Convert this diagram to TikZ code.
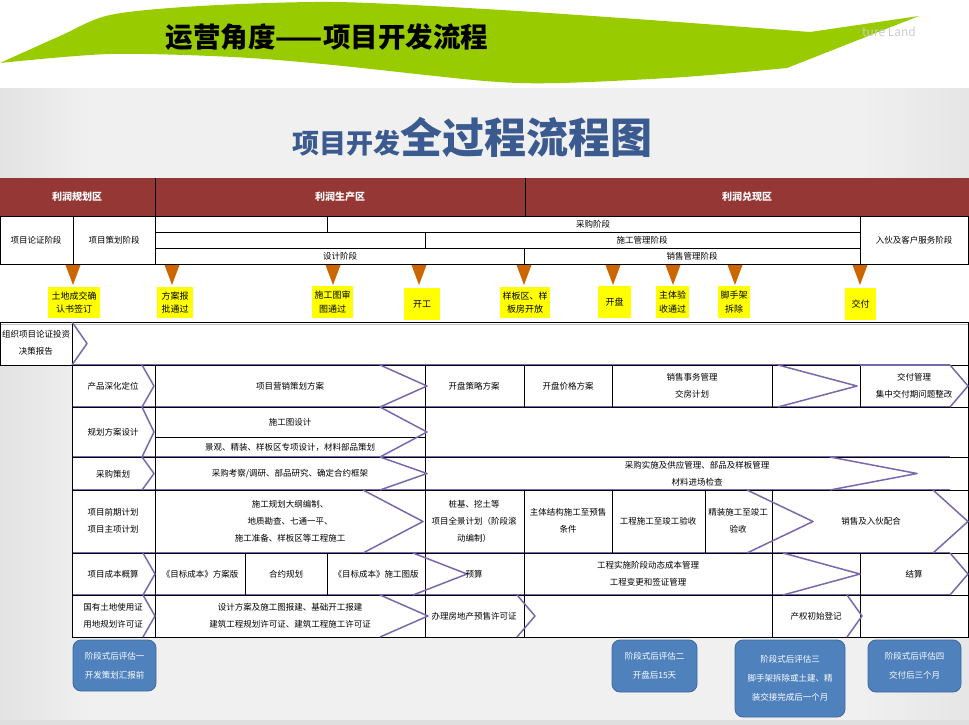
\documentclass[tikz,border=0pt]{standalone}
\usepackage{fontspec}
\setmainfont{Noto Sans CJK SC}
\definecolor{hdrred}{HTML}{953735}
\definecolor{leaf}{HTML}{99CC00}
\definecolor{tricol}{HTML}{CC6600}
\definecolor{chevcol}{HTML}{7A68AC}
\definecolor{evalblue}{HTML}{4F81BD}
\definecolor{evaledge}{HTML}{3C6A9E}
\definecolor{titleblue}{HTML}{3B5A8F}
\definecolor{bggray}{HTML}{F0F0F0}
\definecolor{msyellow}{HTML}{FFFF00}
\newcommand\chevtip[4]{\draw[chev] (#1,#3) -- (#2,{(#3+#4)/2}) -- (#1,#4);}
\begin{document}
\begin{tikzpicture}[x=1pt,y=-1pt,
  gridl/.style={draw=black,line width=0.9pt},
  chev/.style={draw=chevcol,line width=1.5pt,line join=round},
  cell/.style={font=\fontsize{8.5}{17}\selectfont,align=center,inner sep=0pt},
  hdr/.style={font=\fontsize{10}{12}\selectfont\bfseries,text=white,inner sep=0pt},
  stagetxt/.style={font=\fontsize{8.5}{12}\selectfont,inner sep=0pt},
  msbox/.style={fill=msyellow,font=\fontsize{9}{13.5}\selectfont,align=center,inner sep=0pt},
  evalbox/.style={rounded corners=8pt,fill=evalblue,draw=evaledge,line width=0.8pt,text=white,font=\fontsize{8.5}{19}\selectfont,align=center,inner sep=0pt}]
\useasboundingbox (0,0) rectangle (969,725);
% background
\fill[white] (0,0) rectangle (969,88);
\fill[bggray] (0,88) rectangle (969,725);
\shade[left color=gray!22,right color=bggray] (0,88) rectangle (90,725);
\shade[left color=bggray,right color=gray!20] (860,88) rectangle (969,725);
\fill[gray!25] (0,720) rectangle (969,725);
% green swoosh
\fill[leaf] plot[smooth] coordinates {(0,63) (60,36) (110,15) (200,6) (333,2) (485,9) (650,20) (810,32)} -- (919,16) -- (787,68)
  -- plot[smooth] coordinates {(787,68) (684,77) (560,83) (485,81) (333,65) (233,57) (110,54) (0,63)} -- cycle;
\node[font=\fontsize{27.5}{29}\selectfont\bfseries] (toptitle) at (327,37) {运营角度——项目开发流程};
\node[font=\fontsize{12}{14}\selectfont,text=gray!40,anchor=west,inner sep=0pt] (brand) at (862,32) {ture Land};
% main title
\node[anchor=base,text=titleblue,inner sep=0pt] (title) at (472,153)
  {\fontsize{27}{30}\selectfont\bfseries 项目开发\fontsize{42}{44}\selectfont 全过程流程图};
% table background
\fill[white] (0,178) rectangle (969,365);
\fill[white] (72,365) rectangle (969,637);
% header row
\fill[hdrred] (0,178) rectangle (969,216);
\draw[gridl] (155,178) -- (155,216) (525,178) -- (525,216);
\node[hdr] (z1) at (77,197) {利润规划区};
\node[hdr] (z2) at (340,197) {利润生产区};
\node[hdr] (z3) at (747,197) {利润兑现区};
% stage rows
\draw[gridl] (0,216) -- (969,216) (155,232) -- (860,232) (155,248) -- (860,248) (0,264) -- (969,264);
\draw[gridl] (0,216) -- (0,264) (73,216) -- (73,264) (155,216) -- (155,264) (327,216) -- (327,232)
  (425,232) -- (425,248) (524,248) -- (524,264) (860,216) -- (860,264) (968,216) -- (968,264);
\node[stagetxt] (s1) at (36,240) {项目论证阶段};
\node[stagetxt] (s2) at (114,240) {项目策划阶段};
\node[stagetxt] (s3) at (593,224) {采购阶段};
\node[stagetxt] (s4) at (642,240) {施工管理阶段};
\node[stagetxt] (s5) at (340,256) {设计阶段};
\node[stagetxt] (s6) at (692,256) {销售管理阶段};
\node[stagetxt] (s7) at (914,240) {入伙及客户服务阶段};
% milestones
\foreach \x in {73,172,333,419,524,613,673,735,860}
  \fill[tricol] (\x-7.5,265) -- (\x+7.5,265) -- (\x,285) -- cycle;
\node[msbox,minimum width=52pt,minimum height=31pt] (m1) at (74,302.5) {土地成交确\\认书签订};
\node[msbox,minimum width=36pt,minimum height=31pt] (m2) at (175,302.5) {方案报\\批通过};
\node[msbox,minimum width=41pt,minimum height=32pt] (m3) at (332.5,302) {施工图审\\图通过};
\node[msbox,minimum width=36pt,minimum height=32pt] (m4) at (422,304) {开工};
\node[msbox,minimum width=50pt,minimum height=31pt] (m5) at (525,302.5) {样板区、样\\板房开放};
\node[msbox,minimum width=33pt,minimum height=32pt] (m6) at (614.5,302) {开盘};
\node[msbox,minimum width=33pt,minimum height=32pt] (m7) at (672.5,302) {主体验\\收通过};
\node[msbox,minimum width=32pt,minimum height=32pt] (m8) at (734,302) {脚手架\\拆除};
\node[msbox,minimum width=31pt,minimum height=32pt] (m9) at (860.5,304) {交付};
\draw[gridl] (0,322) -- (969,322);
\draw[gray!50,line width=0.8pt] (0,324.5) -- (969,324.5);
% purple row lines (under black)
\foreach \y in {365,407,457,490,553,595}
  \draw[chevcol,line width=1.6pt] (72,\y) -- (950,\y);
% body grid
\draw[gridl] (0,365) -- (72,365) (0,322) -- (0,365) (72,322) -- (72,637) (968,322) -- (968,637);
\foreach \y in {365,407,457,490,553,595,637}
  \draw[gridl] (72,\y) -- (969,\y);
\draw[gridl] (155,437) -- (425,437);
\draw[gridl] (155,365) -- (155,637) (425,365) -- (425,637)
  (524,365) -- (524,407) (524,490) -- (524,637)
  (612,365) -- (612,407) (612,490) -- (612,553)
  (705,490) -- (705,553)
  (772,365) -- (772,407) (772,490) -- (772,637)
  (860,365) -- (860,407) (860,553) -- (860,637)
  (245,553) -- (245,595) (327,553) -- (327,595);
% chevron tips
\chevtip{72}{87}{322}{365}
\chevtip{142}{154}{365}{407}\chevtip{380}{427}{365}{407}\chevtip{778}{857}{365}{407}\chevtip{950}{968}{365}{407}
\draw[chev] (860,365) -- (950,365);
\chevtip{142}{154}{407}{457}\chevtip{380}{427}{407}{457}
\chevtip{142}{154}{457}{490}\chevtip{380}{427}{457}{490}\chevtip{830}{917}{457}{490}
\chevtip{363}{423}{490}{553}\chevtip{747}{813}{490}{553}\chevtip{933}{968}{490}{553}
\chevtip{143}{155}{553}{595}\chevtip{413}{467}{553}{595}\chevtip{783}{860}{553}{595}\chevtip{950}{968}{553}{595}
\chevtip{143}{155}{595}{637}\chevtip{380}{428}{595}{637}\chevtip{517}{535}{595}{637}\chevtip{847}{862}{595}{637}
% row A
\node[cell] (a1) at (36,343) {组织项目论证投资\\决策报告};
% row B
\node[cell] (b1) at (113,386) {产品深化定位};
\node[cell] (b2) at (290,386) {项目营销策划方案};
\node[cell] (b3) at (474,386) {开盘策略方案};
\node[cell] (b4) at (568,386) {开盘价格方案};
\node[cell] (b5) at (692,386) {销售事务管理\\交房计划};
\node[cell] (b6) at (914,386) {交付管理\\集中交付期问题整改};
% row C
\node[cell] (c1) at (113,432) {规划方案设计};
\node[cell] (c2) at (290,422) {施工图设计};
\node[cell] (c3) at (290,447) {景观、精装、样板区专项设计，材料部品策划};
% row D
\node[cell] (d1) at (113,474) {采购策划};
\node[cell] (d2) at (290,474) {采购考察/调研、部品研究、确定合约框架};
\node[cell] (d3) at (697,474) {采购实施及供应管理、部品及样板管理\\材料进场检查};
% row E
\node[cell] (e1) at (113,521) {项目前期计划\\项目主项计划};
\node[cell] (e2) at (290,521) {施工规划大纲编制、\\地质勘查、七通一平、\\施工准备、样板区等工程施工};
\node[cell] (e3) at (474,521) {桩基、挖土等\\项目全景计划（阶段滚\\动编制）};
\node[cell] (e4) at (568,521) {主体结构施工至预售\\条件};
\node[cell] (e5) at (658,521) {工程施工至竣工验收};
\node[cell] (e6) at (738,521) {精装施工至竣工\\验收};
\node[cell] (e7) at (871,521) {销售及入伙配合};
% row F
\node[cell] (f1) at (113,574) {项目成本概算};
\node[cell] (f2) at (200,574) {《目标成本》方案版};
\node[cell] (f3) at (286,574) {合约规划};
\node[cell] (f4) at (376,574) {《目标成本》施工图版};
\node[cell] (f5) at (474,574) {预算};
\node[cell] (f6) at (648,574) {工程实施阶段动态成本管理\\工程变更和签证管理};
\node[cell] (f7) at (914,574) {结算};
% row G
\node[cell] (g1) at (113,616) {国有土地使用证\\用地规划许可证};
\node[cell] (g2) at (290,616) {设计方案及施工图报建、基础开工报建\\建筑工程规划许可证、建筑工程施工许可证};
\node[cell] (g3) at (474,616) {办理房地产预售许可证};
\node[cell] (g4) at (816,616) {产权初始登记};
% evaluation boxes
\node[evalbox,minimum width=83pt,minimum height=51pt] (v1) at (114.5,665.5) {阶段式后评估一\\开发策划汇报前};
\node[evalbox,minimum width=85pt,minimum height=52pt] (v2) at (654.5,666) {阶段式后评估二\\开盘后15天};
\node[evalbox,minimum width=110pt,minimum height=77pt] (v3) at (790,678.5) {阶段式后评估三\\脚手架拆除或土建、精\\装交接完成后一个月};
\node[evalbox,minimum width=93pt,minimum height=52pt] (v4) at (914.5,666) {阶段式后评估四\\交付后三个月};
\end{tikzpicture}
\end{document}
